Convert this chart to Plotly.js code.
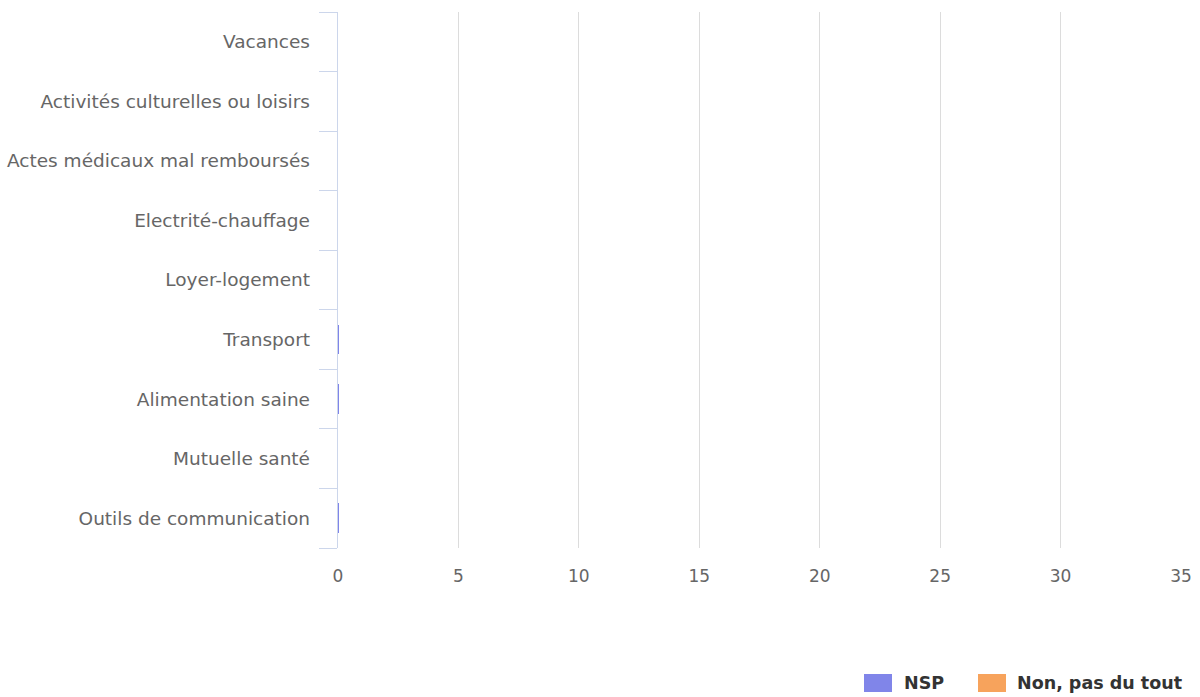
<!DOCTYPE html>
<html>
<head>
<meta charset="utf-8">
<script src="https://cdn.plot.ly/plotly-3.0.1.min.js"></script>
<style>html,body{margin:0;padding:0;background:#fff;}#chart{width:1200px;height:697px;}</style>
</head>
<body>
<div id="chart"></div>
<script>
var categories = ["Vacances", "Activités culturelles ou loisirs", "Actes médicaux mal remboursés", "Electrité-chauffage", "Loyer-logement", "Transport", "Alimentation saine", "Mutuelle santé", "Outils de communication"];
var seriesNames = ["NSP", "Non, pas du tout"];
var seriesColors = ["#8085e9", "#f7a35c"];
var nspValues = [0, 0, 0, 0, 0, 0.03, 0.03, 0, 0.03];
var nonPasDuToutValues = [0, 0, 0, 0, 0, 0, 0, 0, 0];
var xTickValues = [0, 5, 10, 15, 20, 25, 30, 35];
var boundaryTicks = [-0.5, 0.5, 1.5, 2.5, 3.5, 4.5, 5.5, 6.5, 7.5, 8.5];

var fontFam = "DejaVu Sans, Lucida Grande, sans-serif";

var data = [
  {type: "bar", orientation: "h", name: seriesNames[0], y: categories, x: nspValues,
   marker: {color: seriesColors[0], line: {width: 0}}, width: 0.5, hoverinfo: "x+y", showlegend: false},
  {type: "bar", orientation: "h", name: seriesNames[1], y: categories, x: nonPasDuToutValues,
   marker: {color: seriesColors[1], line: {width: 0}}, width: 0.5, hoverinfo: "x+y", showlegend: false},
  {type: "scatter", mode: "none", x: [0, 0], y: [-0.5, 8.5], yaxis: "y2", showlegend: false, hoverinfo: "skip"}
];

// legend drawn in paper coordinates (plot area: x 338..1181 px, y 12..548 px)
function px(xp) { return (xp - 338) / 843; }
function py(yp) { return (548 - yp) / 536; }
var legendSymX = [864, 978];
var legendTextX = [903, 1016];
var shapes = [];
var annotations = [];
for (var i = 0; i < seriesNames.length; i++) {
  shapes.push({type: "rect", xref: "paper", yref: "paper",
    x0: px(legendSymX[i]), x1: px(legendSymX[i] + 28), y0: py(692), y1: py(674),
    fillcolor: seriesColors[i], line: {width: 0}});
  annotations.push({xref: "paper", yref: "paper", x: px(legendTextX[i]), y: py(683),
    xanchor: "left", yanchor: "middle", showarrow: false, text: seriesNames[i],
    font: {family: fontFam, size: 17.5, color: "#333333", weight: "bold"}, borderpad: 0});
}

var layout = {
  width: 1200, height: 697,
  margin: {l: 338, r: 19, t: 12, b: 149, autoexpand: false},
  paper_bgcolor: "#ffffff", plot_bgcolor: "#ffffff",
  barmode: "stack",
  font: {family: fontFam, color: "#666666", size: 18},
  xaxis: {
    range: [0, 35], tickvals: xTickValues, ticktext: xTickValues.map(String),
    showgrid: true, gridcolor: "#dcdcdc", gridwidth: 1, zeroline: false,
    showline: false, ticks: "", tickfont: {size: 17, color: "#666666", family: fontFam},
    ticklabelstandoff: 16, fixedrange: true
  },
  yaxis: {
    type: "category", categoryorder: "array", categoryarray: categories,
    range: [8.5, -0.5], showgrid: false, zeroline: false, showline: false, ticks: "",
    tickfont: {size: 18.5, color: "#666666", family: fontFam}, ticklabelstandoff: 27, fixedrange: true
  },
  yaxis2: {
    overlaying: "y", side: "left", anchor: "x", range: [8.5, -0.5],
    tickvals: boundaryTicks, showticklabels: false, ticks: "outside", ticklen: 18,
    tickcolor: "#ccd6eb", tickwidth: 1, showline: true, linecolor: "#ccd6eb", linewidth: 1,
    showgrid: false, zeroline: false, fixedrange: true
  },
  showlegend: false,
  shapes: shapes,
  annotations: annotations
};

Plotly.newPlot("chart", data, layout, {displayModeBar: false});
</script>
</body>
</html>
